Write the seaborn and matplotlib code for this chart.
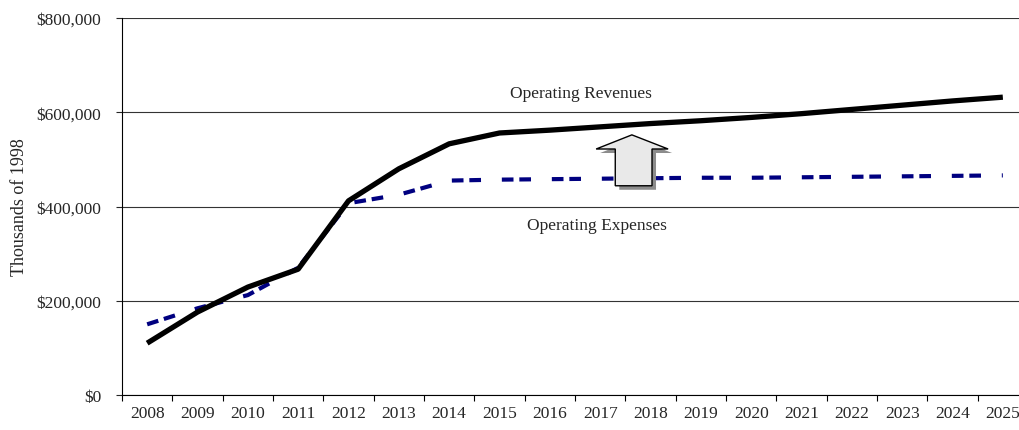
"""Operating revenues vs operating expenses, 2008-2025."""

import matplotlib
matplotlib.use("Agg")
import matplotlib.pyplot as plt
import numpy as np
import pandas as pd
import seaborn as sns
from matplotlib.patches import Polygon
from matplotlib.ticker import FuncFormatter, FixedLocator
from matplotlib.transforms import offset_copy

years = [str(y) for y in range(2008, 2026)]
revenues = [110, 176, 229, 267, 412, 480, 533, 556, 562, 569,
            576, 582, 589, 597, 606, 615, 624, 632]  # thousands of 1998 $ (x1000)
expenses = [150, 184, 212, 270, 407, 425, 455, 457, 458, 459,
            460, 461, 461, 462, 463, 464, 465, 466]

df = pd.DataFrame({
    "pos": np.arange(len(years)),
    "Operating Revenues": np.array(revenues) * 1000,
    "Operating Expenses": np.array(expenses) * 1000,
})

sns.set_style("white")
plt.rcParams["font.family"] = ["Liberation Serif", "DejaVu Serif"]
FS = 12.5

fig = plt.figure(figsize=(10.19, 4.31), dpi=100)
ax = fig.add_axes([122 / 1019, 35 / 431, (1028 - 122) / 1019, (396 - 19) / 431])

# gridlines
ax.set_ylim(0, 800000)
ax.set_yticks([0, 200000, 400000, 600000, 800000])
ax.grid(True, axis="y", color="#333333", linewidth=0.8)
ax.set_axisbelow(True)

sns.lineplot(data=df, x="pos", y="Operating Expenses", ax=ax, color="#000080",
             linewidth=3.0, dashes=False, zorder=3)
ax.lines[-1].set_linestyle((0, (2.8, 1.4, 2.8, 5.0)))
ax.lines[-1].set_dash_capstyle("butt")
sns.lineplot(data=df, x="pos", y="Operating Revenues", ax=ax, color="black",
             linewidth=3.8, zorder=4)
ax.lines[-1].set_solid_capstyle("butt")

# block arrow between the two curves
arrow_pts = [(9.30, 444000), (9.30, 522000), (8.92, 522000), (9.63, 552000),
             (10.35, 522000), (10.03, 522000), (10.03, 444000)]
shadow_tr = offset_copy(ax.transData, fig=fig, x=4, y=-4, units="dots")
ax.add_patch(Polygon(arrow_pts, closed=True, facecolor="#8c8c8c",
                     edgecolor="none", transform=shadow_tr, zorder=5))
ax.add_patch(Polygon(arrow_pts, closed=True, facecolor="#e9e9e9",
                     edgecolor="black", linewidth=1.0, zorder=6))

ax.text(8.62, 641000, "Operating Revenues", ha="center", va="center", fontsize=FS)
ax.text(8.94, 361000, "Operating Expenses", ha="center", va="center", fontsize=FS)

# x axis: ticks between categories, labels at centres
ax.set_xlim(-0.5, len(years) - 0.5)
ax.xaxis.set_major_locator(FixedLocator(np.arange(len(years) + 1) - 0.5))
ax.xaxis.set_minor_locator(FixedLocator(np.arange(len(years))))
ax.set_xticklabels([], minor=False)
ax.set_xticklabels(years, minor=True)
ax.tick_params(axis="x", which="major", direction="out", length=4, width=0.8,
               bottom=True, colors="black")
ax.tick_params(axis="x", which="minor", length=0, pad=7, labelsize=FS)

ax.yaxis.set_major_formatter(FuncFormatter(lambda v, _: f"${v:,.0f}"))
ax.tick_params(axis="y", direction="out", length=4, width=0.8, left=True,
               pad=11, labelsize=FS)

ax.set_xlabel("")
ax.set_ylabel("Thousands of 1998", fontsize=13)
ax.yaxis.set_label_coords(-0.104, 0.5)

for side in ["top", "right"]:
    ax.spines[side].set_visible(False)
for side in ["left", "bottom"]:
    ax.spines[side].set_color("black")
    ax.spines[side].set_linewidth(0.8)

ax.legend_ = None
fig.savefig("out.png", dpi=100)
plt.close(fig)
